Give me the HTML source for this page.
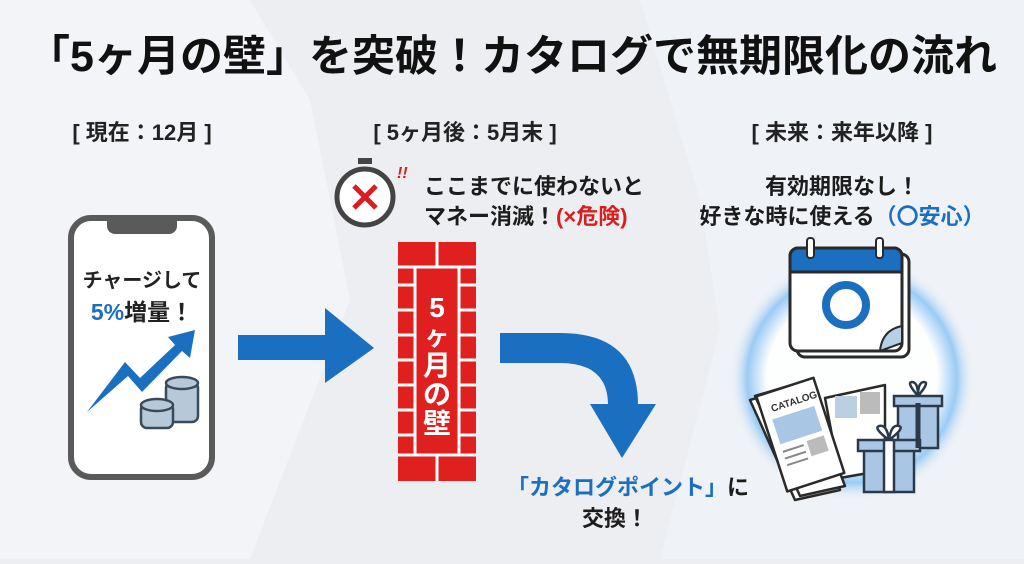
<!DOCTYPE html>
<html><head><meta charset="utf-8"><style>
html,body{margin:0;padding:0;}
body{width:1024px;height:559px;overflow:hidden;background:#eceef1;font-family:"Liberation Sans","Noto Sans CJK JP",sans-serif;}
svg text{font-family:"Liberation Sans","Noto Sans CJK JP",sans-serif;font-weight:bold;}
</style></head><body>
<svg width="1024" height="559" viewBox="0 0 1024 559" xmlns="http://www.w3.org/2000/svg">
<defs>
<radialGradient id="glow" cx="50%" cy="50%" r="50%">
<stop offset="0.70" stop-color="#ffffff" stop-opacity="0.9"/>
<stop offset="0.86" stop-color="#8cc4f5" stop-opacity="0.85"/>
<stop offset="1" stop-color="#e8eef5" stop-opacity="0"/>
</radialGradient>
</defs>
<rect width="1024" height="559" fill="#eceef1"/>
<polygon points="0,0 250,0 310,100 350,300 250,559 0,559" fill="#f2f4f7"/>
<polygon points="640,0 1024,0 1024,559 660,559 720,330 700,200" fill="#eff2f6"/>
<text x="512" y="71" font-size="43" text-anchor="middle" fill="#111">「5ヶ月の壁」を突破！カタログで無期限化の流れ</text>
<text x="142" y="140" font-size="22" text-anchor="middle" fill="#222">[ 現在：12月 ]</text>
<text x="465" y="140" font-size="22" text-anchor="middle" fill="#222">[ 5ヶ月後：5月末 ]</text>
<text x="842" y="140" font-size="22" text-anchor="middle" fill="#222">[ 未来：来年以降 ]</text>
<!-- phone -->
<rect x="71" y="218" width="141" height="259" rx="20" fill="#fff" stroke="#5a5a5a" stroke-width="6"/>
<path d="M107,218 h70 v8 a8,8 0 0 1 -8,8 h-54 a8,8 0 0 1 -8,-8z" fill="#5a5a5a"/>
<text x="142" y="287" font-size="20" text-anchor="middle" fill="#222">チャージして</text>
<text x="142" y="320" font-size="23" text-anchor="middle" fill="#222"><tspan fill="#1a6fc0">5%</tspan>増量！</text>
<polygon points="87,412 125,362 140,378 175,345 168,337 195,330 190,358 182,351 142,392 128,376" fill="#1a6fc0"/>
<g stroke="#3a4a5a" stroke-width="2.5" fill="#b7c9d8">
<rect x="166" y="382" width="32" height="40" rx="6"/>
<ellipse cx="182" cy="383" rx="16" ry="6"/>
<rect x="141" y="403" width="32" height="25" rx="6"/>
<ellipse cx="157" cy="405" rx="16" ry="6"/>
</g>
<!-- arrow 1 -->
<polygon points="238,335 325,335 325,308 374,348 325,383 325,360 238,360" fill="#1a6fc0"/>
<!-- stopwatch -->
<rect x="358" y="158" width="14" height="6" fill="#444"/>
<circle cx="365" cy="197" r="28" fill="#fff" stroke="#444" stroke-width="5"/>
<path d="M354,186 L376,208 M376,186 L354,208" stroke="#d81e1e" stroke-width="5"/>
<text x="397" y="178" font-size="16" fill="#d81e1e" font-style="italic">!!</text>
<text x="424" y="194" font-size="22" fill="#1c1c1c">ここまでに使わないと</text>
<text x="424" y="224" font-size="22" fill="#1c1c1c">マネー消滅！<tspan fill="#d81e1e">(×危険)</tspan></text>
<!-- wall -->
<rect x="398" y="242" width="78" height="239" fill="#e01f1f"/>
<g stroke="#fff" stroke-width="3" fill="none">
<path d="M398,267 h78 M437,242 v25 M398,455 h78 M437,455 v26 M415,267 v188 M459,267 v188"/>
<path d="M398,285 h17 M398,310 h17 M398,335 h17 M398,360 h17 M398,385 h17 M398,410 h17 M398,435 h17"/>
<path d="M459,285 h17 M459,310 h17 M459,335 h17 M459,360 h17 M459,385 h17 M459,410 h17 M459,435 h17"/>
</g>
<rect x="417" y="290" width="40" height="150" fill="#e01f1f"/>
<text x="437" y="317" font-size="28" text-anchor="middle" fill="#fff">5</text>
<text x="437" y="345" font-size="25" text-anchor="middle" fill="#fff">ヶ</text>
<text x="437" y="375" font-size="28" text-anchor="middle" fill="#fff">月</text>
<text x="437" y="404" font-size="28" text-anchor="middle" fill="#fff">の</text>
<text x="437" y="433" font-size="28" text-anchor="middle" fill="#fff">壁</text>
<!-- curved arrow -->
<path d="M500,333 H560 Q638,333 638,405 H608 Q608,363 560,363 H500Z" fill="#1a6fc0"/>
<polygon points="590,404 656,404 622,458" fill="#1a6fc0"/>
<text x="628" y="495" font-size="22" text-anchor="middle" fill="#1c1c1c"><tspan fill="#1a6fc0">「カタログポイント」</tspan>に</text>
<text x="615" y="526" font-size="22" text-anchor="middle" fill="#1c1c1c">交換！</text>
<!-- right -->
<text x="842" y="194" font-size="22" text-anchor="middle" fill="#1c1c1c">有効期限なし！</text>
<text x="842" y="224" font-size="22" text-anchor="middle" fill="#1c1c1c">好きな時に使える<tspan fill="#1a6fc0">（〇安心）</tspan></text>
<circle cx="852" cy="378" r="122" fill="url(#glow)"/>
<!-- calendar -->
<rect x="797" y="254" width="112" height="103" rx="8" fill="#fff" stroke="#2a2a2a" stroke-width="3"/>
<rect x="790" y="248" width="112" height="103" rx="8" fill="#fff" stroke="#2a2a2a" stroke-width="3"/>
<path d="M790,272 v-16 a8,8 0 0 1 8,-8 h96 a8,8 0 0 1 8,8 v16z" fill="#1a6fc0" stroke="#2a2a2a" stroke-width="3"/>
<rect x="807" y="238" width="7" height="20" rx="3" fill="#fff" stroke="#2a2a2a" stroke-width="2"/>
<rect x="876" y="238" width="7" height="20" rx="3" fill="#fff" stroke="#2a2a2a" stroke-width="2"/>
<circle cx="846" cy="305" r="20" fill="none" stroke="#1a6fc0" stroke-width="8"/>
<path d="M880,351 Q882,330 902,326 L902,343 Z" fill="#b7d0ea" stroke="#2a2a2a" stroke-width="2"/>
<!-- catalog -->
<g stroke="#2a2a2a" stroke-width="2.5" stroke-linejoin="round">
<polygon points="825,398 885,385 885,470 840,478" fill="#fff"/>
<rect x="835" y="396" width="22" height="22" fill="#bccfe2" stroke="none"/>
<rect x="860" y="392" width="20" height="22" fill="#bbb" stroke="none"/>
<polygon points="750,400 800,385 840,490 795,500" fill="#fff"/>
<polygon points="755,396 805,381 845,486 800,496" fill="#fff"/>
<g transform="rotate(-18 800 440)">
<rect x="772" y="385" width="60" height="100" fill="#fff"/>
<rect x="780" y="412" width="44" height="26" fill="#a9c6e4" stroke="none"/>
<rect x="806" y="443" width="18" height="16" fill="#bbb" stroke="none"/>
<path d="M780,446 h22 M780,453 h22 M780,460 h22" stroke="#888" stroke-width="2"/>
</g>
</g>
<text x="770" y="406" font-size="10" fill="#333" transform="rotate(-18 790 402)">CATALOG</text>
<!-- gifts -->
<g stroke="#2a3a4a" stroke-width="2.5" fill="#a9c6e4">
<rect x="898" y="403" width="40" height="45"/>
<rect x="894" y="396" width="48" height="10"/>
<path d="M918,396 q-12,-14 -6,-14 q6,0 6,14 q0,-14 6,-14 q6,0 -6,14" fill="#fff"/>
<rect x="864" y="448" width="50" height="44"/>
<rect x="858" y="440" width="62" height="11"/>
<rect x="884" y="440" width="10" height="52" fill="#fff"/>
<path d="M889,440 q-16,-12 -10,-14 q8,-2 10,14 q2,-16 10,-14 q6,2 -10,14" fill="#fff"/>
</g>
<line x1="918" y1="403" x2="918" y2="448" stroke="#2a3a4a" stroke-width="5"/>
</svg>
</body></html>
